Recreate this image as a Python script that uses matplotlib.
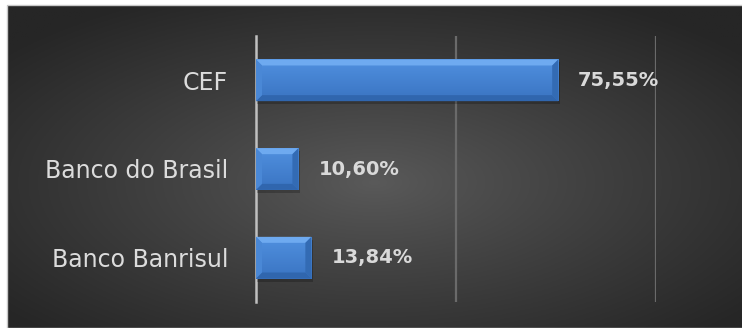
import numpy as np
import matplotlib
matplotlib.use("Agg")
import matplotlib.pyplot as plt
from matplotlib.patches import Polygon, Rectangle
from matplotlib.transforms import IdentityTransform

categories = ["CEF", "Banco do Brasil", "Banco Banrisul"]
values = [0.7555, 0.1060, 0.1384]
value_labels = ["75,55%", "10,60%", "13,84%"]

W, H = 742, 328
fig = plt.figure(figsize=(W / 100, H / 100), dpi=100, facecolor="white")

# background with radial gradient
bg = fig.add_axes([7 / W, 0, 1 - 7 / W, 1 - 5 / H])
bg.set_axis_off()
nx, ny = 400, 200
xx, yy = np.meshgrid(np.linspace(-1, 1, nx), np.linspace(-1, 1, ny))
cx, cy = 0.0, 0.1
r = np.sqrt(((xx - cx) / 1.0) ** 2 + ((yy - cy) / 1.0) ** 2)
r = np.clip(r / 1.3, 0, 1) ** 0.9
c_in, c_out = 0x5a, 0x26
g = (c_in + (c_out - c_in) * r) / 255.0
img = np.dstack([g, g, g])
bg.imshow(img, aspect="auto", extent=[0, 1, 0, 1], origin="upper")
bg.set_xlim(0, 1)
bg.set_ylim(0, 1)
fig.patches.append(Rectangle((6.5 / W, 0), 1, 1 - 4.5 / H, transform=fig.transFigure,
                             fill=False, edgecolor="#c8c8c8", linewidth=1, zorder=0))

ax = fig.add_axes([256 / W, 26 / H, 400 / W, 266 / H])
ax.set_facecolor("none")
ypos = np.arange(len(categories))
ax.set_xlim(0, 1)
ax.set_ylim(len(categories) - 0.5, -0.5)
bars = ax.barh(ypos, values, height=0.47, color="#3d7bcc", zorder=3)

ax.set_xticks([0.5, 1.0])
ax.grid(axis="x", color="#6a6a6a", linewidth=1.6, zorder=0)
ax.tick_params(axis="x", length=0, labelbottom=False)
ax.set_yticks(ypos)
ax.set_yticklabels(categories, fontsize=17, color="#dcdcdc", family="DejaVu Sans")
ax.tick_params(axis="y", length=0, pad=20)
for s in ["top", "right", "bottom"]:
    ax.spines[s].set_visible(False)
ax.spines["left"].set_color("#c0c0c0")
ax.spines["left"].set_linewidth(1.8)
ax.spines["left"].set_zorder(6)

fig.canvas.draw()
b = 6
for bar, lab in zip(bars, value_labels):
    x0d, y0d = bar.get_x(), bar.get_y()
    wd, hd = bar.get_width(), bar.get_height()
    (X0, Y0) = ax.transData.transform((x0d, y0d + hd))
    (X1, Y1) = ax.transData.transform((x0d + wd, y0d))
    # shadow
    fig.patches.append(Rectangle((X0 + 1, Y0 - 3), X1 - X0 + 1, Y1 - Y0, transform=IdentityTransform(),
                                 facecolor="black", alpha=0.22, edgecolor="none", zorder=2))
    # face gradient
    face = fig.add_axes([X0 / W, Y0 / H, (X1 - X0) / W, (Y1 - Y0) / H])
    face.set_axis_off()
    t = np.linspace(0, 1, 50)[:, None]
    top = np.array([0x50, 0x90, 0xdf]) / 255
    bot = np.array([0x3a, 0x74, 0xc2]) / 255
    grad = top + (bot - top) * t
    face.imshow(grad[:, None, :].repeat(2, axis=1), aspect="auto", extent=[0, 1, 0, 1])
    face.set_xlim(0, 1); face.set_ylim(0, 1)
    face.set_zorder(4)
    polys = [
        ([(X0, Y1), (X1, Y1), (X1 - b, Y1 - b), (X0 + b, Y1 - b)], "#6eaaf0"),
        ([(X0, Y0), (X1, Y0), (X1 - b, Y0 + b), (X0 + b, Y0 + b)], "#3066ae"),
        ([(X0, Y0), (X0, Y1), (X0 + b, Y1 - b), (X0 + b, Y0 + b)], "#4a88d6"),
        ([(X1, Y0), (X1, Y1), (X1 - b, Y1 - b), (X1 - b, Y0 + b)], "#336bb4"),
    ]
    for pts, col in polys:
        fig.patches.append(Polygon(pts, closed=True, transform=IdentityTransform(),
                                   facecolor=col, edgecolor="none", zorder=5))
    ax.annotate(lab, (x0d + wd, y0d + hd / 2), xytext=(20, 0), textcoords="offset pixels",
                ha="left", va="center", fontsize=14, fontweight="bold", color="#d9d9d9", zorder=7)

fig.savefig("out.png", dpi=100, facecolor="white")
